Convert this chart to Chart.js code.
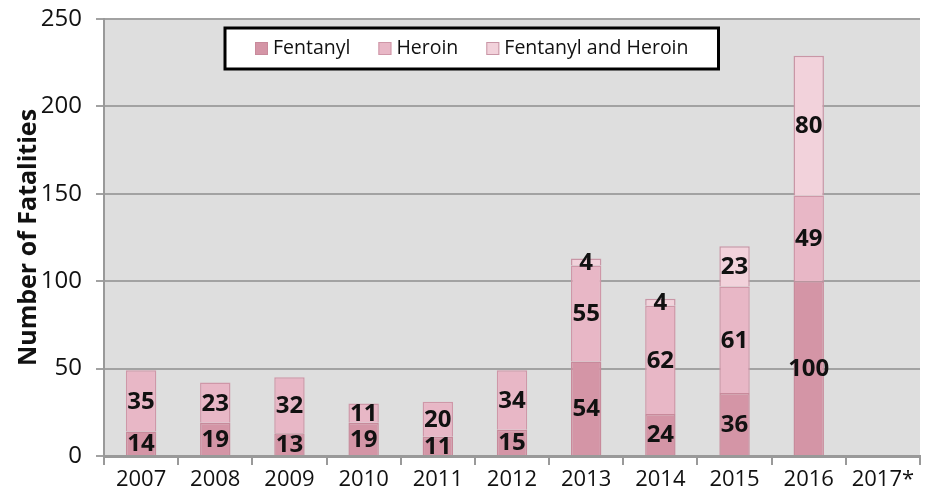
<!DOCTYPE html>
<html>
<head>
<meta charset="utf-8">
<script src="https://cdn.jsdelivr.net/npm/chart.js@4"></script>
<style>
  html, body { margin: 0; padding: 0; background: #fff; }
  #wrap { width: 926px; height: 502px; }
</style>
</head>
<body>
<div id="wrap"><canvas id="chart" width="926" height="502"></canvas></div>
<script>
const years = ['2007','2008','2009','2010','2011','2012','2013','2014','2015','2016','2017*'];
const fentanyl = [14, 19, 13, 19, 11, 15, 54, 24, 36, 100, null];
const heroin = [35, 23, 32, 11, 20, 34, 55, 62, 61, 49, null];
const fentanylAndHeroin = [0, 0, 0, 0, 0, 0, 4, 4, 23, 80, null];
const yTicks = [0, 50, 100, 150, 200, 250];

const FONT = '"Open Sans", "Noto Sans", sans-serif';

// grey plot background
const plotBg = {
  id: 'plotBg',
  beforeDraw(chart) {
    const { ctx, chartArea: a } = chart;
    ctx.save();
    ctx.fillStyle = '#dedede';
    ctx.fillRect(a.left, a.top, a.right - a.left, a.bottom - a.top);
    ctx.restore();
  }
};

// numbers in the middle of each segment
const segLabels = {
  id: 'segLabels',
  afterDatasetsDraw(chart) {
    const ctx = chart.ctx;
    ctx.save();
    ctx.font = 'bold 24px ' + FONT;
    ctx.fillStyle = '#111';
    ctx.textAlign = 'center';
    ctx.textBaseline = 'middle';
    chart.data.datasets.forEach((ds, i) => {
      chart.getDatasetMeta(i).data.forEach((bar, j) => {
        const v = ds.data[j];
        if (!v) return;
        ctx.fillText(String(v), bar.x, (bar.y + bar.base) / 2 + 1);
      });
    });
    ctx.restore();
  }
};

// boxed legend sitting inside the plot
const boxLegend = {
  id: 'boxLegend',
  afterDraw(chart) {
    const { ctx, chartArea: a } = chart;
    const sets = chart.data.datasets;
    ctx.save();
    ctx.font = '19.5px ' + FONT;
    const sq = 13, gap = 5, spacing = 28, padX = 30;
    let content = 0;
    sets.forEach((ds, i) => {
      content += sq + gap + ctx.measureText(ds.label).width;
      if (i < sets.length - 1) content += spacing;
    });
    const w = content + padX * 2;
    const h = 41;
    const x0 = a.left + 121;
    const y0 = a.top + 9;
    ctx.fillStyle = '#fff';
    ctx.fillRect(x0, y0, w, h);
    ctx.lineWidth = 3;
    ctx.strokeStyle = '#000';
    ctx.strokeRect(x0, y0, w, h);
    let x = x0 + padX;
    const cy = y0 + h / 2;
    ctx.textBaseline = 'middle';
    ctx.textAlign = 'left';
    sets.forEach(ds => {
      ctx.fillStyle = ds.backgroundColor;
      ctx.fillRect(x, cy - sq / 2, sq, sq);
      ctx.lineWidth = 1;
      ctx.strokeStyle = ds.borderColor;
      ctx.strokeRect(x + 0.5, cy - sq / 2 + 0.5, sq - 1, sq - 1);
      x += sq + gap;
      ctx.fillStyle = '#111';
      ctx.fillText(ds.label, x, cy);
      x += ctx.measureText(ds.label).width + spacing;
    });
    ctx.restore();
  }
};

const barStyle = { borderWidth: 1.5, categoryPercentage: 1, barPercentage: 0.41 };

new Chart(document.getElementById('chart').getContext('2d'), {
  type: 'bar',
  data: {
    labels: years,
    datasets: [
      { label: 'Fentanyl', data: fentanyl, backgroundColor: '#d495a6', borderColor: '#c88a9b', ...barStyle },
      { label: 'Heroin', data: heroin, backgroundColor: '#e8b7c6', borderColor: '#cf97a8', ...barStyle },
      { label: 'Fentanyl and Heroin', data: fentanylAndHeroin, backgroundColor: '#f2d2db', borderColor: '#c996a6', ...barStyle }
    ]
  },
  options: {
    responsive: false,
    animation: false,
    layout: { padding: { top: 19, right: 6, bottom: 0, left: 0 } },
    plugins: {
      legend: { display: false },
      tooltip: { enabled: false }
    },
    scales: {
      x: {
        stacked: true,
        offset: true,
        border: { color: '#999', width: 3 },
        grid: { offset: true, drawOnChartArea: false, drawTicks: true, tickLength: 9, color: '#999', lineWidth: 2 },
        ticks: { color: '#111', font: { family: FONT, size: 22 }, padding: 2, maxRotation: 0, autoSkip: false },
        afterFit: s => { s.height = 46; }
      },
      y: {
        stacked: true,
        min: 0,
        max: 250,
        afterBuildTicks: s => { s.ticks = yTicks.map(v => ({ value: v })); },
        border: { color: '#999', width: 2 },
        grid: { color: '#a2a2a2', lineWidth: 2, tickLength: 8 },
        ticks: { color: '#111', font: { family: FONT, size: 24 }, padding: 14 },
        title: {
          display: true,
          text: 'Number of Fatalities',
          color: '#111',
          font: { family: FONT, size: 25, weight: 'bold' },
          padding: { top: 14, bottom: 0 }
        },
        afterFit: s => { s.width = 104; s.paddingTop = 0; s.paddingBottom = 0; }
      }
    }
  },
  plugins: [plotBg, segLabels, boxLegend]
});
</script>
</body>
</html>
